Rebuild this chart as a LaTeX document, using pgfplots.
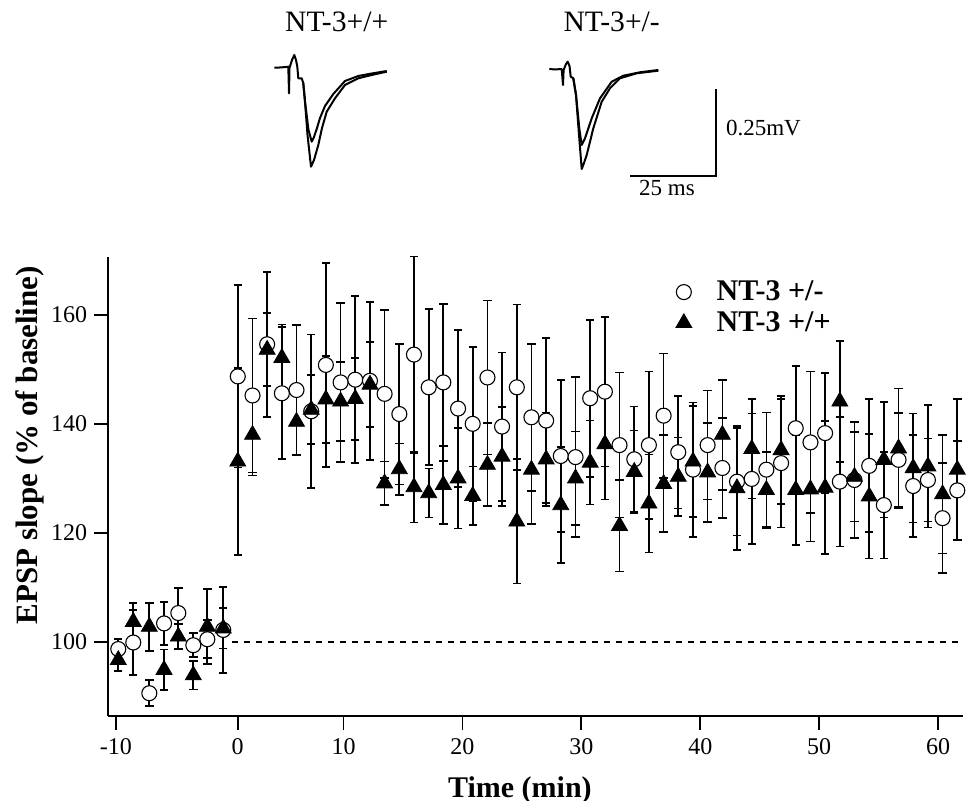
\documentclass[border=0pt]{standalone}
\usepackage{pgfplots}
\pgfplotsset{compat=1.18}
\usepackage{pgfplotstable}
\usepackage{fontspec}
\setmainfont{Liberation Serif}

\pgfplotstableread{
x c ce t te
-8.95 98.7 1.8 96.7 2.0
-7.69 99.9 6.0 103.7 3.5
-6.34 90.6 2.4 102.8 4.4
-5.10 103.4 3.9 94.9 3.7
-3.90 105.3 4.6 101.0 2.3
-2.64 99.4 2.2 93.9 2.6
-1.46 100.5 3.5 102.8 6.9
-0.12 102.2 7.9 102.5 3.7
1.10 148.7 16.7 133.1 17.2
2.34 145.2 14.1 138.0 7.5
3.57 154.6 13.3 153.6 6.7
4.81 145.6 12.1 152.1 6.1
6.04 146.2 11.9 140.4 6.0
7.28 142.3 14.1 142.6 6.3
8.51 150.8 18.7 144.5 8.0
9.75 147.6 14.6 144.1 7.3
10.98 148.1 15.3 144.6 7.5
12.22 147.9 14.5 147.2 7.8
13.45 145.5 15.4 129.1 4.0
14.69 141.8 12.9 131.7 4.7
15.92 152.7 18.0 128.4 6.5
17.16 146.7 14.3 127.3 4.5
18.39 147.6 14.4 128.8 7.2
19.63 142.8 14.4 130.0 9.2
20.86 140.0 14.1 126.8 5.4
22.10 148.5 14.1 132.5 7.6
23.33 139.5 13.6 134.0 9.1
24.57 146.7 15.2 122.1 11.4
25.80 141.2 13.5 131.6 10.0
27.04 140.6 15.1 133.5 8.6
28.27 134.1 13.9 125.1 10.6
29.51 133.9 14.7 130.0 8.6
30.74 144.7 14.4 132.9 7.7
31.98 145.9 13.7 136.3 10.2
33.21 136.1 13.3 121.3 8.4
34.45 133.5 9.7 131.2 7.6
35.68 136.1 13.5 125.4 9.0
36.92 141.5 11.4 129.0 8.9
38.15 134.8 10.3 130.3 7.2
39.39 131.6 12.3 133.1 10.2
40.62 136.1 10.0 131.1 9.1
41.86 131.9 9.2 138.0 10.1
43.09 129.4 9.9 128.2 11.4
44.33 129.9 12.0 135.4 9.1
45.56 131.6 10.5 127.9 7.0
46.80 132.8 11.8 135.2 9.9
48.03 139.2 11.4 127.9 10.1
49.27 136.6 13.0 128.0 9.6
50.50 138.3 11.0 128.3 12.2
51.74 129.4 11.9 144.1 11.1
52.97 129.7 10.7 130.3 8.2
54.21 132.3 12.2 126.7 11.4
55.44 125.1 9.8 133.4 10.6
56.68 133.4 8.6 135.5 11.0
57.91 128.6 9.4 131.9 10.0
59.15 129.7 7.6 132.2 11.2
60.38 122.7 10.1 127.1 10.9
61.62 127.8 9.0 131.6 12.9
}\ltpdata

\begin{document}
\begin{tikzpicture}
\path[use as bounding box] (0,0) rectangle (486.5pt,400.5pt);

% overlay axis in pixel units for the example traces
\begin{axis}[at={(0pt,0pt)}, anchor=south west, scale only axis,
  width=486.5pt, height=400.5pt, xmin=0, xmax=973, ymin=0, ymax=801,
  y dir=reverse, hide axis, clip=false]
\addplot[black, line width=1pt, line join=round] coordinates {
(274.3,67.7) (280,67.5) (286,67) (288.3,66.7) (289,93.3) (289.5,68) (292,60) (294.3,55) (296,60) (297.3,66.7) (298.3,78.3) (301.7,78.3) (303.3,83.3) (305,101.7) (307.5,135) (311,166.7) (314,160) (318.3,145) (322,128) (326.7,111.7) (335,98.3) (345,85) (358.3,78.3) (371.7,75) (386.7,71.7)};
\addplot[black, line width=1pt, line join=round] coordinates {
(303.3,83.3) (305,101.7) (308.5,130) (311.7,141.7) (314,137) (316.7,129) (320,118) (325,106) (333.3,94) (345,81) (358.3,76) (371.7,73.5) (386.7,71)};
\addplot[black, line width=1pt, line join=round] coordinates {
(549.3,69) (555,69.5) (561.7,69) (563,85) (563.6,70) (566,64) (567.7,61.7) (569.5,66) (570.7,76.7) (573.3,78.3) (576,95) (579,135) (581.7,169) (584,163) (586.7,155) (593.3,128.3) (601.7,101.7) (610,88.3) (620,78.3) (636.7,73.3) (658.3,70.7)};
\addplot[black, line width=1pt, line join=round] coordinates {
(573.3,78.3) (576,95) (579.5,130) (581.7,145) (585,138.3) (591.7,118.3) (600,98.3) (611.7,81.7) (623.3,75.7) (640,72.3) (658.3,70)};
% scale bar
\addplot[black, line width=0.8pt] coordinates {(630,176) (716,176) (716,89)};
\node[font=\fontsize{14.8}{16}\selectfont] at (axis cs:336.7,22) {NT-3+/+};
\node[font=\fontsize{14.8}{16}\selectfont] at (axis cs:611.7,22) {NT-3+/-};
\node[font=\fontsize{11.5}{13}\selectfont, anchor=west] at (axis cs:719,128) {0.25mV};
\node[font=\fontsize{11.5}{13}\selectfont] at (axis cs:667,188) {25 ms};
\end{axis}

% main axis
\begin{axis}[at={(53.85pt,42.5pt)}, anchor=south west, scale only axis,
  width=427.65pt, height=229.5pt,
  xmin=-9.84, xmax=62.1, ymin=86.42, ymax=170.6,
  axis x line*=bottom, axis y line*=left,
  axis line style={line width=0.9pt, -},
  tick style={line width=0.9pt, black},
  tick align=outside, major tick length=6.8pt,
  xtick={-9.16,1.09,10,20,30,40,50,60},
  xticklabels={-10,0,10,20,30,40,50,60},
  ytick={100,120,140,160},
  /pgf/number format/assume math mode=true,
  ticklabel style={font=\fontsize{12}{14}\selectfont},
  xticklabel style={yshift=-1pt},
  xlabel={Time (min)},
  ylabel={EPSP slope (\% of baseline)},
  every axis x label/.style={at={(axis description cs:0.482,-0.161)}, anchor=center,
    font=\bfseries\fontsize{15}{17}\selectfont},
  every axis y label/.style={at={(axis description cs:-0.0908,0.590)}, rotate=90, anchor=center,
    font=\bfseries\fontsize{15.5}{17}\selectfont},
  clip=false,
  legend style={at={(axis description cs:0.661,0.958)}, anchor=north west,
    draw=none, fill=none, inner sep=0pt, row sep=0pt,
    font=\bfseries\fontsize{15}{17}\selectfont},
  legend cell align=left,
  legend image code/.code={\draw[#1] plot coordinates {(0pt,0pt)}; \path (-5pt,0pt) (14.2pt,0pt);},
  error bars/error bar style={line width=0.85pt, black},
  error bars/error mark options={rotate=90, mark size=2.1pt, line width=0.85pt, black},
]
\addplot[black, line width=0.7pt, dash pattern=on 3pt off 3pt, forget plot] coordinates {(0.6,100) (62.1,100)};
\addplot[only marks, mark=*, mark size=3.75pt, mark options={fill=white, draw=black, line width=0.55pt},
  error bars/.cd, y dir=both, y explicit]
  table[x=x, y=c, y error=ce] {\ltpdata};
\addlegendentry{NT-3 +/-}
\addplot[only marks, mark=triangle*, mark size=4.6pt, mark options={fill=black, draw=black},
  error bars/.cd, y dir=both, y explicit]
  table[x=x, y=t, y error=te] {\ltpdata};
\addlegendentry{NT-3 +/+}
\end{axis}
\end{tikzpicture}
\end{document}
